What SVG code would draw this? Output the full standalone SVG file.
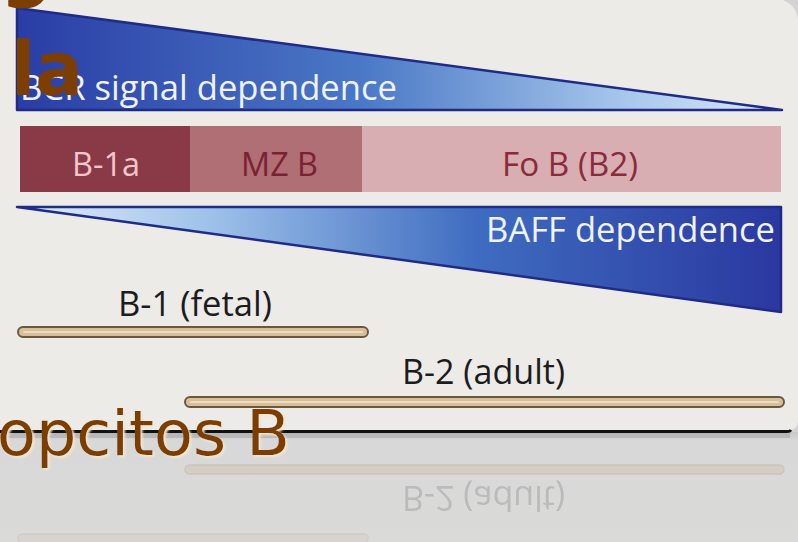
<svg xmlns="http://www.w3.org/2000/svg" width="798" height="542" viewBox="0 0 798 542">
<defs>
<linearGradient id="gBCR" x1="17" y1="0" x2="782" y2="0" gradientUnits="userSpaceOnUse">
<stop offset="0" stop-color="#2a3da6"/>
<stop offset="0.45" stop-color="#4a78c6"/>
<stop offset="0.8" stop-color="#a8c8ec"/>
<stop offset="1" stop-color="#dde9f7"/>
</linearGradient>
<linearGradient id="gBAFF" x1="17" y1="0" x2="781" y2="0" gradientUnits="userSpaceOnUse">
<stop offset="0" stop-color="#e2eefa"/>
<stop offset="0.25" stop-color="#9ec2ea"/>
<stop offset="0.6" stop-color="#3f6cc0"/>
<stop offset="1" stop-color="#2a38a0"/>
</linearGradient>
<linearGradient id="gRefl" x1="0" y1="432" x2="0" y2="542" gradientUnits="userSpaceOnUse">
<stop offset="0" stop-color="#c8c8c8"/>
<stop offset="0.08" stop-color="#d8d8d8"/>
<stop offset="1" stop-color="#dadad9"/>
</linearGradient>
<filter id="glow" x="-10%" y="-20%" width="120%" height="140%">
<feDropShadow dx="2" dy="2" stdDeviation="1.2" flood-color="#f3e6cc" flood-opacity="1"/>
</filter>
</defs>
<style>
.lbl{font-family:"Open Sans","Liberation Sans",sans-serif;}
.white{fill:#eef3ff;font-size:34px;}
.cell{font-size:32px;}
.range{fill:#1c1c1c;font-size:34px;}
.tri{stroke:#1f2b86;stroke-width:2.5;stroke-linejoin:round;}
.bar{fill:#d8bf9c;stroke:#6a573c;stroke-width:2;}
.barhi{stroke:#eddcc0;stroke-width:2;stroke-linecap:round;}
.brown{font-family:"DejaVu Sans","Verdana",sans-serif;fill:#7c3e02;}
</style>

<!-- background -->
<rect x="0" y="0" width="798" height="542" fill="#d3d3d3"/>
<rect x="0" y="432" width="798" height="110" fill="url(#gRefl)"/>
<path d="M-1 -1 H776 A22 22 0 0 1 798 21 V421 A10 10 0 0 1 788 431 H-1 Z" fill="#ecebe8"/>
<path d="M0 431.5 H787 Q790 431.5 791 430" fill="none" stroke="#111" stroke-width="3"/>
<rect x="0" y="433" width="790" height="5" fill="#a9a9a9" opacity="0.6"/>

<!-- reflection -->
<g id="reflection" opacity="0.6">
<rect x="185" y="465" width="599" height="9" rx="4.5" fill="#d4c7b6" stroke="#c4b8a8" stroke-width="1.5"/>
<rect x="18" y="534" width="350" height="9" rx="4.5" fill="#d6d0c8" stroke="#cac3ba" stroke-width="1.5"/>
<text class="lbl" x="402" y="384" font-size="34" textLength="163" lengthAdjust="spacingAndGlyphs" fill="#a8a8a8" transform="translate(0,870) scale(1,-1)">B-2 (adult)</text>
</g>

<!-- BCR signal dependence -->
<g id="bcr-signal">
<path class="tri" d="M17 8 L782 110 L17 110 Z" fill="url(#gBCR)"/>
<text class="lbl white" x="20" y="100" textLength="377" lengthAdjust="spacingAndGlyphs">BCR signal dependence</text>
</g>

<!-- cell populations -->
<g id="b1a">
<rect x="20" y="126" width="170" height="66" fill="#8a3947"/>
<text class="lbl cell" x="72" y="176" textLength="68" lengthAdjust="spacingAndGlyphs" fill="#f2c6cc">B-1a</text>
</g>
<g id="mzb">
<rect x="190" y="126" width="172" height="66" fill="#b06e75"/>
<text class="lbl cell" x="241" y="176" textLength="77" lengthAdjust="spacingAndGlyphs" fill="#792232">MZ B</text>
</g>
<g id="fob">
<rect x="362" y="126" width="419" height="66" fill="#d9aeb3"/>
<text class="lbl cell" x="502" y="176" textLength="136" lengthAdjust="spacingAndGlyphs" fill="#8b2a3a">Fo B (B2)</text>
</g>

<!-- BAFF dependence -->
<g id="baff">
<path class="tri" d="M17 207 L781 207 L781 312 Z" fill="url(#gBAFF)"/>
<text class="lbl white" x="486" y="242" textLength="289" lengthAdjust="spacingAndGlyphs">BAFF dependence</text>
</g>

<!-- ranges -->
<g id="b1-fetal">
<text class="lbl range" x="118" y="316" textLength="154" lengthAdjust="spacingAndGlyphs">B-1 (fetal)</text>
<rect class="bar" x="18" y="327" width="350" height="10" rx="5"/>
<line class="barhi" x1="24" y1="332" x2="362" y2="332"/>
</g>
<g id="b2-adult">
<text class="lbl range" x="402" y="384" textLength="163" lengthAdjust="spacingAndGlyphs">B-2 (adult)</text>
<rect class="bar" x="185" y="397" width="599" height="10" rx="5"/>
<line class="barhi" x1="191" y1="402" x2="778" y2="402"/>
</g>

<g id="connectors"/>

<!-- overlaid title fragments -->
<g id="overlay">
<text class="brown" x="0" y="-8" font-size="74" font-weight="bold">g</text>
<text class="brown" x="11" y="95" font-size="74" font-weight="bold" textLength="72" lengthAdjust="spacingAndGlyphs">la</text>
<text class="brown" x="-3" y="455" font-size="63" textLength="293" lengthAdjust="spacingAndGlyphs" filter="url(#glow)">opcitos B</text>
</g>
</svg>
